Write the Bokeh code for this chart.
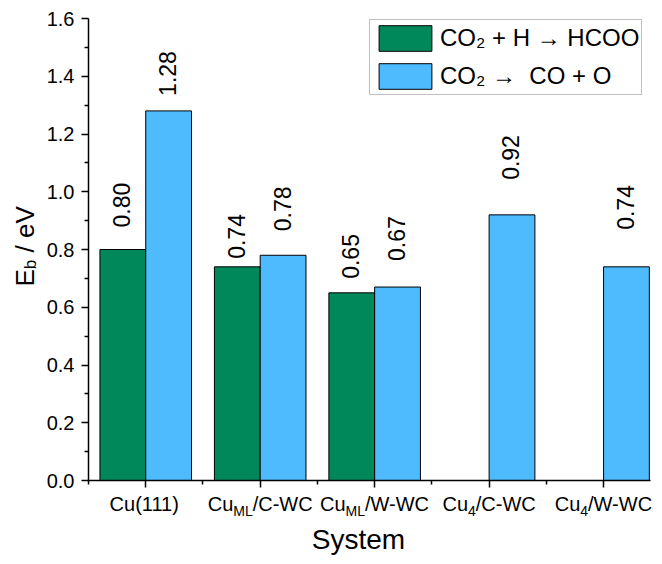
import numpy as np
from bokeh.plotting import figure
from bokeh.models import (ColumnDataSource, Range1d, FixedTicker, Label, LabelSet, LinearAxis,
                          Legend, LegendItem, NumeralTickFormatter, CustomJSTickFormatter)
from bokeh.embed import file_html
from bokeh.resources import INLINE
from bokeh.core.properties import value

# ---------------- data ----------------
cat_main = ["Cu(111)", "Cu", "Cu", "Cu", "Cu"]
cat_sub = ["", "ML", "ML", "4", "4"]
cat_rest = ["", "/C-WC", "/W-WC", "/C-WC", "/W-WC"]
hcoo = [0.80, 0.74, 0.65, np.nan, np.nan]      # CO2 + H -> HCOO
co_o = [1.28, 0.78, 0.67, 0.92, 0.74]          # CO2 -> CO + O
series_names = ["CO\u2082 + H \u2192 HCOO", "CO\u2082 \u2192  CO + O"]
y_ticks = [0.0, 0.2, 0.4, 0.6, 0.8, 1.0, 1.2, 1.4, 1.6]
y_minor = [0.1, 0.3, 0.5, 0.7, 0.9, 1.1, 1.3, 1.5]

# ---------------- layout (pixels) ----------------
WIDTH, HEIGHT = 654, 556
FL, FR, FT, FB = 88, 650, 18, 480          # plotting area inside the canvas
XMIN, XMAX, YMIN, YMAX = -0.5, 4.41, 0.0, 1.6
hcoo_lab_off = [22, 8, 14, 0, 0]            # value label gap above bar (px)
co_lab_off = [15, 24, 26, 35, 37]

GREEN = "#00875A"
BLUE = "#4DBBFD"
FONT = "Liberation Sans"

xpp = (FR - FL) / (XMAX - XMIN)
ypp = (FB - FT) / (YMAX - YMIN)
x_range = Range1d(XMIN - FL / xpp, XMAX + (WIDTH - FR) / xpp)
y_range = Range1d(YMIN - (HEIGHT - FB) / ypp, YMAX + FT / ypp)

idx = np.arange(len(cat_main), dtype=float)
bw = 0.4

p = figure(width=WIDTH, height=HEIGHT, x_range=x_range, y_range=y_range,
           output_backend="svg", toolbar_location=None,
           x_axis_location=None, y_axis_location=None,
           min_border=0, min_border_left=0, min_border_right=0,
           min_border_top=0, min_border_bottom=0)
p.title.visible = False
p.outline_line_color = None
p.grid.visible = False
p.background_fill_color = "white"
p.border_fill_color = "white"

mask = ~np.isnan(np.array(hcoo))
src_g = ColumnDataSource(dict(x=(idx - bw / 2)[mask], top=np.array(hcoo)[mask],
                              lab=["%.2f" % v for v in np.array(hcoo)[mask]],
                              off=np.array(hcoo_lab_off)[mask]))
src_b = ColumnDataSource(dict(x=idx + bw / 2, top=np.array(co_o),
                              lab=["%.2f" % v for v in co_o],
                              off=np.array(co_lab_off)))

rg = p.vbar(x="x", top="top", bottom=0, width=bw, source=src_g,
            fill_color=GREEN, line_color="black", line_width=1)
rb = p.vbar(x="x", top="top", bottom=0, width=bw, source=src_b,
            fill_color=BLUE, line_color="black", line_width=1)

for s in (src_g, src_b):
    p.add_layout(LabelSet(x="x", y="top", text="lab", y_offset="off", x_offset=-1,
                          angle=np.pi / 2, text_align="left", text_baseline="middle",
                          text_font=value(FONT), text_font_size="23px",
                          text_color="black", source=s))

# axes drawn at fixed data locations
yax = LinearAxis(fixed_location=XMIN, bounds=(YMIN, YMAX),
                 ticker=FixedTicker(ticks=y_ticks, minor_ticks=y_minor),
                 formatter=NumeralTickFormatter(format="0.0"))
xax = LinearAxis(fixed_location=YMIN, bounds=(XMIN, XMAX),
                 ticker=FixedTicker(ticks=list(idx), minor_ticks=list(idx - 0.5)),
                 formatter=CustomJSTickFormatter(code="return ''"))
for ax in (xax, yax):
    ax.axis_line_width = 1.5
    ax.axis_line_color = "black"
    ax.major_tick_line_width = 1.5
    ax.minor_tick_line_width = 1.5
    ax.major_tick_in = 0
    ax.major_tick_out = 7
    ax.minor_tick_in = 0
    ax.minor_tick_out = 4
yax.major_label_text_font = FONT
yax.major_label_text_font_size = "20px"
yax.major_label_text_color = "black"
yax.major_label_standoff = 7
p.add_layout(yax, "left")
p.add_layout(xax, "below")

# Arial-like advance widths (em) for composing sub-scripted labels
W = {"C": .722, "u": .556, "(": .333, ")": .333, "1": .556, "M": .833, "L": .556,
     "/": .278, "-": .333, "W": .944, "4": .556, "E": .667, "b": .556, " ": .278,
     "e": .556, "V": .667}


def tw(t, size):
    return sum(W.get(c, .556) for c in t) * size


MAIN, SUB = 20, 14
for i in range(len(cat_main)):
    pieces = [(cat_main[i], MAIN, -23.0), (cat_sub[i], SUB, -30.0), (cat_rest[i], MAIN, -23.0)]
    pieces = [pc for pc in pieces if pc[0]]
    total = sum(tw(t, s) for t, s, _ in pieces)
    xo = -total / 2
    for t, s, yo in pieces:
        p.add_layout(Label(x=idx[i], y=YMIN, x_offset=xo, y_offset=yo, text=t,
                           text_align="left", text_baseline="middle",
                           text_font=FONT, text_font_size="%dpx" % s,
                           text_color="black"))
        xo += tw(t, s)

# x title
xc = (XMIN + XMAX) / 2
p.add_layout(Label(x=xc, y=YMIN, x_offset=-11, y_offset=-59, text="System",
                   text_align="center", text_baseline="middle",
                   text_font=FONT, text_font_size="28px", text_color="black"))

# y title  E_b / eV (rotated)
YT, YS = 26, 17
yc = (YMIN + YMAX) / 2
yo = -37.0
for t, s, xo, gap in [("E", YT, -64.0, 0.0), ("b", YS, -58.0, 0.278 * YT), ("/ eV", YT, -64.0, 0.0)]:
    p.add_layout(Label(x=XMIN, y=yc, x_offset=xo, y_offset=yo, text=t,
                       angle=np.pi / 2, text_align="left", text_baseline="middle",
                       text_font=FONT, text_font_size="%dpx" % s, text_color="black"))
    yo += tw(t, s) + gap

legend = Legend(items=[LegendItem(label=series_names[0], renderers=[rg]),
                       LegendItem(label=series_names[1], renderers=[rb])],
                location=(369, 461), glyph_width=66, glyph_height=32, label_height=32,
                label_standoff=2, spacing=6, padding=2, margin=0,
                border_line_color="#7f7f7f", border_line_width=1.5,
                background_fill_color="white", background_fill_alpha=1,
                label_text_font=FONT, label_text_font_size="24px", label_text_color="black")
p.add_layout(legend)

open("out.html", "w").write(file_html(p, INLINE))
